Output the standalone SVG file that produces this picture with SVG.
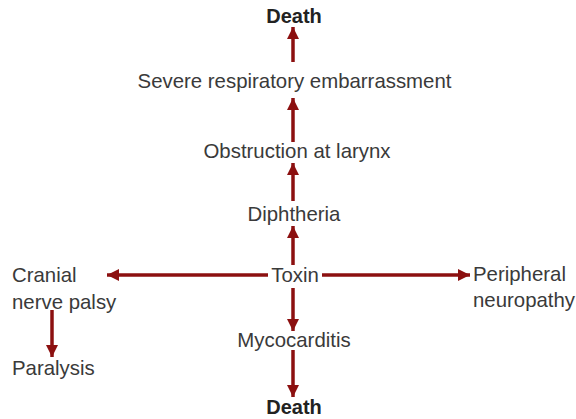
<svg xmlns="http://www.w3.org/2000/svg" width="576" height="419" viewBox="0 0 576 419">
<defs>
<marker id="ah" markerUnits="userSpaceOnUse" markerWidth="14" markerHeight="12" refX="12" refY="6" orient="auto">
<path d="M0,0 L12,6 L0,12 Z" fill="#8c1010"/>
</marker>
<style>
text{font-family:"Liberation Sans",Arial,sans-serif;font-size:20.4px;fill:#3a3a3a}
.c{text-anchor:middle}
.b{font-weight:bold;fill:#222;font-size:20px}
.e line{stroke:#8c1010;stroke-width:3.5;marker-end:url(#ah)}
</style>
</defs>
<rect width="576" height="419" fill="#fff"/>
<g class="e" id="connectors">
<line x1="293" y1="62" x2="293" y2="27"/>
<line x1="293" y1="142" x2="293" y2="98"/>
<line x1="293" y1="201" x2="293" y2="163"/>
<line x1="293" y1="265" x2="293" y2="226"/>
<line x1="268" y1="275" x2="107" y2="275"/>
<line x1="322" y1="275" x2="470" y2="275"/>
<line x1="293" y1="288" x2="293" y2="331"/>
<line x1="293" y1="350" x2="293" y2="397"/>
<line x1="52" y1="310" x2="52" y2="357"/>
</g>
<g id="death-top"><text class="c b" x="294" y="23">Death</text></g>
<g id="severe"><text class="c" x="294.5" y="88">Severe respiratory embarrassment</text></g>
<g id="obstruction"><text class="c" x="297" y="158">Obstruction at larynx</text></g>
<g id="diphtheria"><text class="c" x="294" y="221">Diphtheria</text></g>
<g id="toxin"><text class="c" x="295" y="282">Toxin</text></g>
<g id="cranial"><text x="12" y="282">Cranial</text><text x="12" y="309">nerve palsy</text></g>
<g id="paralysis"><text x="12" y="375">Paralysis</text></g>
<g id="peripheral"><text x="473" y="281">Peripheral</text><text x="473" y="307">neuropathy</text></g>
<g id="mycocarditis"><text class="c" x="294" y="347">Mycocarditis</text></g>
<g id="death-bottom"><text class="c b" x="294" y="414">Death</text></g>
</svg>
